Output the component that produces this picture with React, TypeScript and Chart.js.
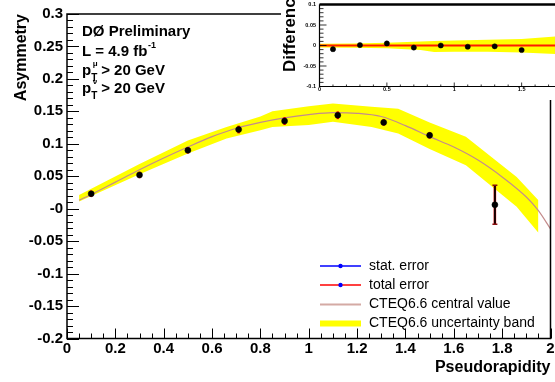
import React, { useEffect, useRef } from 'react';
import { Chart, registerables } from 'chart.js';

Chart.register(...registerables);

const FONT = '"Liberation Sans", Arial, Helvetica, sans-serif';

// ---- main panel data ----
const etaPoints = [0.1, 0.3, 0.5, 0.71, 0.9, 1.12, 1.31, 1.5, 1.77];
const asymmetry = [0.023, 0.052, 0.090, 0.122, 0.135, 0.144, 0.133, 0.113, 0.006];
const totalErr = [0.005, 0.005, 0.005, 0.006, 0.006, 0.006, 0.005, 0.005, 0.030];
const statErr = [0.003, 0.003, 0.003, 0.003, 0.003, 0.003, 0.003, 0.003, 0.029];

const curveEta = [0.05, 0.1, 0.2, 0.3, 0.4, 0.5, 0.6, 0.7, 0.8, 0.9, 1.0, 1.1, 1.2, 1.3, 1.4, 1.5, 1.6, 1.7, 1.8, 1.9, 1.95, 2.0];
const curveVal = [0.013, 0.022, 0.041, 0.060, 0.078, 0.095, 0.111, 0.124, 0.133, 0.140, 0.145, 0.148, 0.147, 0.142, 0.128, 0.111, 0.095, 0.075, 0.049, 0.018, -0.003, -0.031];

const bandEta = [0.05, 0.3, 0.5, 0.66, 0.8, 0.85, 1.0, 1.1, 1.26, 1.37, 1.5, 1.65, 1.86, 1.95];
const bandUpper = [0.021, 0.069, 0.105, 0.126, 0.142, 0.150, 0.158, 0.162, 0.157, 0.154, 0.133, 0.111, 0.049, 0.013];
const bandLower = [0.011, 0.053, 0.085, 0.108, 0.121, 0.126, 0.129, 0.134, 0.126, 0.116, 0.092, 0.067, 0.003, -0.037];

const xTicks = [0, 0.2, 0.4, 0.6, 0.8, 1, 1.2, 1.4, 1.6, 1.8, 2];
const yTicks = [-0.2, -0.15, -0.1, -0.05, 0, 0.05, 0.1, 0.15, 0.2, 0.25, 0.3];

// ---- inset (difference) data ----
const diffEta = [0.1, 0.3, 0.5, 0.7, 0.9, 1.1, 1.3, 1.5];
const diffVal = [-0.009, 0.001, 0.005, -0.005, 0.0, -0.003, -0.002, -0.011];
const insetBandEta = [0, 0.25, 0.5, 0.75, 0.85, 1.0, 1.25, 1.5, 1.75, 2.0];
const insetBandUpper = [0.004, 0.005, 0.007, 0.010, 0.011, 0.0125, 0.014, 0.016, 0.022, 0.026];
const insetBandLower = [-0.005, -0.0055, -0.007, -0.011, -0.016, -0.015, -0.015, -0.017, -0.021, -0.024];
const zeroEta = [0, 2];
const zeroVal = [0, 0];
const insetXTicks = [0, 0.5, 1, 1.5, 2];
const insetYTicks = [-0.1, -0.05, 0, 0.05, 0.1];

const legendLabels = ['stat. error', 'total error', 'CTEQ6.6 central value', 'CTEQ6.6 uncertainty band'];

const pts = (xs: number[], ys: number[]) => xs.map((x, i) => ({ x, y: ys[i] }));
const fmt = (v: number) => String(parseFloat(v.toFixed(3)));

const mainPlugin = {
  id: 'rootMain',
  beforeDatasetDraw(chart: any, args: any) {
    if (args.index !== 3) return;
    const { ctx, scales: { x, y } } = chart;
    ctx.save();
    etaPoints.forEach((e, i) => {
      const px = x.getPixelForValue(e);
      const a = asymmetry[i];
      const t1 = y.getPixelForValue(a + totalErr[i]);
      const t2 = y.getPixelForValue(a - totalErr[i]);
      ctx.strokeStyle = '#ff0000';
      ctx.lineWidth = 2.5;
      ctx.beginPath(); ctx.moveTo(px, t1); ctx.lineTo(px, t2); ctx.stroke();
      if (totalErr[i] > 0.01) {
        ctx.strokeStyle = '#8a1010';
        ctx.lineWidth = 1.5;
        ctx.beginPath();
        ctx.moveTo(px - 2.5, t1); ctx.lineTo(px + 2.5, t1);
        ctx.moveTo(px - 2.5, t2); ctx.lineTo(px + 2.5, t2);
        ctx.stroke();
        const s1 = y.getPixelForValue(a + statErr[i]);
        const s2 = y.getPixelForValue(a - statErr[i]);
        ctx.strokeStyle = '#140000';
        ctx.lineWidth = 2;
        ctx.beginPath(); ctx.moveTo(px, s1); ctx.lineTo(px, s2); ctx.stroke();
      }
    });
    ctx.restore();
  },
  afterDraw(chart: any) {
    const { ctx, chartArea: { left, right, top, bottom }, scales: { x, y } } = chart;
    ctx.save();
    // legend
    const lx1 = 320, lx2 = 361, tx = 369;
    const rows = [266, 285, 304.5, 323.5];
    ctx.font = `14px ${FONT}`;
    ctx.textBaseline = 'middle';
    ctx.textAlign = 'left';
    ctx.fillStyle = '#000';
    const lineCols = ['#0000ff', '#ff0000', '#d4aaa4', '#ffff00'];
    const lineW = [1.3, 1.3, 2, 6];
    rows.forEach((ry, i) => {
      ctx.strokeStyle = lineCols[i];
      ctx.lineWidth = lineW[i];
      ctx.beginPath(); ctx.moveTo(lx1, ry); ctx.lineTo(lx2, ry); ctx.stroke();
      if (i < 2) {
        ctx.fillStyle = '#0000ff';
        ctx.beginPath(); ctx.arc(340.5, ry, 2.2, 0, Math.PI * 2); ctx.fill();
      }
      ctx.fillStyle = '#000';
      ctx.fillText(legendLabels[i], tx, ry);
    });

    // frame
    ctx.strokeStyle = '#000';
    ctx.lineWidth = 1.5;
    ctx.strokeRect(left, top, right - left, bottom - top);
    ctx.lineWidth = 1;
    ctx.beginPath();
    for (let i = 0; i <= 50; i++) {
      const v = -0.2 + i * 0.01;
      const py = Math.round(y.getPixelForValue(v)) + 0.5;
      const len = i % 5 === 0 ? 12 : 6;
      ctx.moveTo(left, py); ctx.lineTo(left + len, py);
    }
    for (let i = 0; i <= 40; i++) {
      const v = i * 0.05;
      const px = Math.round(x.getPixelForValue(v)) + 0.5;
      const len = i % 4 === 0 ? 10 : 5;
      ctx.moveTo(px, bottom); ctx.lineTo(px, bottom - len);
    }
    ctx.stroke();

    // text block
    ctx.fillStyle = '#000';
    ctx.textBaseline = 'alphabetic';
    ctx.textAlign = 'left';
    const bx = 82;
    ctx.font = `bold 15px ${FONT}`;
    ctx.fillText('DØ Preliminary', bx, 36);
    ctx.fillText('L = 4.9 fb', bx, 56);
    const lw = ctx.measureText('L = 4.9 fb').width;
    ctx.font = `bold 9px ${FONT}`;
    ctx.fillText('-1', bx + lw + 0.5, 48);
    const lines: [string, number][] = [['μ', 75], ['ν', 93]];
    lines.forEach(([sup, by]) => {
      ctx.font = `bold 15px ${FONT}`;
      ctx.fillText('p', bx, by);
      const pw = ctx.measureText('p').width;
      ctx.fillText('> 20 GeV', bx + pw + 10, by);
      ctx.font = `bold 10px ${FONT}`;
      ctx.fillText('T', bx + pw, by + 6);
      ctx.font = `bold 8px ${FONT}`;
      ctx.fillText(sup, bx + pw + 1.5, by - 9);
    });
    ctx.restore();
  },
};

const insetPlugin = {
  id: 'rootInset',
  beforeDraw(chart: any) {
    const { ctx, width, height } = chart;
    ctx.save();
    ctx.fillStyle = '#ffffff';
    ctx.fillRect(0, 0, width, height);
    ctx.restore();
  },
  afterDraw(chart: any) {
    const { ctx, chartArea: { left, right, top, bottom }, scales: { x, y } } = chart;
    ctx.save();
    ctx.strokeStyle = '#000';
    ctx.lineWidth = 1.2;
    ctx.beginPath();
    ctx.moveTo(left, top); ctx.lineTo(left, bottom); ctx.lineTo(right, bottom);
    ctx.stroke();
    ctx.lineWidth = 2.5;
    ctx.beginPath(); ctx.moveTo(left, top); ctx.lineTo(right, top); ctx.stroke();
    ctx.lineWidth = 0.8;
    ctx.beginPath();
    for (let i = 0; i <= 20; i++) {
      const py = y.getPixelForValue(-0.1 + i * 0.01);
      const len = i % 5 === 0 ? 7 : 4;
      ctx.moveTo(left, py); ctx.lineTo(left + len, py);
    }
    for (let i = 0; i <= 20; i++) {
      const px = x.getPixelForValue(i * 0.1);
      const len = i % 5 === 0 ? 4 : 2;
      ctx.moveTo(px, bottom); ctx.lineTo(px, bottom - len);
    }
    ctx.stroke();
    ctx.translate(9, 72);
    ctx.rotate(-Math.PI / 2);
    ctx.font = `bold 17px ${FONT}`;
    ctx.textBaseline = 'middle';
    ctx.textAlign = 'left';
    ctx.fillStyle = '#000';
    ctx.fillText('Difference', 0, 0);
    ctx.restore();
  },
};

export default function App() {
  const mainRef = useRef<HTMLCanvasElement>(null);
  const insetRef = useRef<HTMLCanvasElement>(null);

  useEffect(() => {
    const tickFont = { family: FONT, size: 15, weight: 'bold' as const };
    const main = new Chart(mainRef.current!, {
      type: 'scatter',
      data: {
        datasets: [
          {
            type: 'line', label: 'bandUpper', data: pts(bandEta, bandUpper), order: 10,
            borderWidth: 0, borderColor: 'rgba(0,0,0,0)', pointRadius: 0, fill: '+1',
            backgroundColor: '#ffff00', tension: 0,
          } as any,
          {
            type: 'line', label: 'bandLower', data: pts(bandEta, bandLower), order: 9,
            borderWidth: 0, borderColor: 'rgba(0,0,0,0)', pointRadius: 0, fill: false, tension: 0,
          },
          {
            type: 'line', label: 'central', data: pts(curveEta, curveVal), order: 5,
            borderColor: '#c48c8c', borderWidth: 1.2, pointRadius: 0, fill: false,
            cubicInterpolationMode: 'monotone',
          },
          {
            type: 'scatter', label: 'data', data: pts(etaPoints, asymmetry), order: 1,
            pointRadius: 3, backgroundColor: '#000', borderColor: '#000', borderWidth: 0.5,
          },
        ],
      },
      options: {
        responsive: false,
        animation: false,
        devicePixelRatio: 1,
        layout: { padding: { left: 0, right: 2, top: 14, bottom: 0 } },
        plugins: { legend: { display: false }, tooltip: { enabled: false } },
        scales: {
          x: {
            type: 'linear', min: 0, max: 2,
            afterBuildTicks: (s: any) => { s.ticks = xTicks.map((v) => ({ value: v })); },
            ticks: {
              autoSkip: false, maxRotation: 0, padding: 1, color: '#000', font: tickFont,
              callback: (v: any) => fmt(Number(v)),
            },
            grid: { display: false, drawTicks: false },
            border: { display: false },
            title: {
              display: true, text: 'Pseudorapidity', align: 'end', color: '#000',
              font: { family: FONT, size: 16, weight: 'bold' }, padding: { top: 0, bottom: 4.4 },
            },
            afterFit: (s: any) => { s.height = 43.5; s.paddingLeft = 0; s.paddingRight = 0; },
          },
          y: {
            type: 'linear', min: -0.2, max: 0.3,
            afterBuildTicks: (s: any) => { s.ticks = yTicks.map((v) => ({ value: v })); },
            ticks: {
              autoSkip: false, padding: 4, color: '#000', font: tickFont,
              callback: (v: any) => (Math.abs(Number(v)) < 1e-9 ? '-0' : fmt(Number(v))),
            },
            grid: { display: false, drawTicks: false },
            border: { display: false },
            title: {
              display: true, text: 'Asymmetry', align: 'end', color: '#000',
              font: { family: FONT, size: 16, weight: 'bold' }, padding: { top: 12.4, bottom: 0 },
            },
            afterFit: (s: any) => { s.width = 67; s.paddingTop = 0; s.paddingBottom = 0; },
          },
        },
      },
      plugins: [mainPlugin],
    });

    const smallFont = { family: FONT, size: 5.5, weight: 'bold' as const };
    const inset = new Chart(insetRef.current!, {
      type: 'scatter',
      data: {
        datasets: [
          {
            type: 'line', label: 'iu', data: pts(insetBandEta, insetBandUpper), order: 10,
            borderWidth: 0, borderColor: 'rgba(0,0,0,0)', pointRadius: 0, fill: '+1',
            backgroundColor: '#ffff00', tension: 0,
          } as any,
          {
            type: 'line', label: 'il', data: pts(insetBandEta, insetBandLower), order: 9,
            borderWidth: 0, borderColor: 'rgba(0,0,0,0)', pointRadius: 0, fill: false, tension: 0,
          },
          {
            type: 'line', label: 'zero', data: pts(zeroEta, zeroVal), order: 5,
            borderColor: '#ff1a00', borderWidth: 2, pointRadius: 0, fill: false,
          },
          {
            type: 'scatter', label: 'diff', data: pts(diffEta, diffVal), order: 1,
            pointRadius: 2.6, backgroundColor: '#000', borderColor: '#000', borderWidth: 0.5,
          },
        ],
      },
      options: {
        responsive: false,
        animation: false,
        devicePixelRatio: 1,
        layout: { padding: { left: 0, right: 22, top: 1, bottom: 0 } },
        plugins: { legend: { display: false }, tooltip: { enabled: false } },
        scales: {
          x: {
            type: 'linear', min: 0, max: 2,
            afterBuildTicks: (s: any) => { s.ticks = insetXTicks.map((v) => ({ value: v })); },
            ticks: { autoSkip: false, maxRotation: 0, padding: 0, color: '#000', font: smallFont, callback: (v: any) => fmt(Number(v)) },
            grid: { display: false, drawTicks: false },
            border: { display: false },
            afterFit: (s: any) => { s.height = 13.5; s.paddingLeft = 0; s.paddingRight = 0; },
          },
          y: {
            type: 'linear', min: -0.1, max: 0.1,
            afterBuildTicks: (s: any) => { s.ticks = insetYTicks.map((v) => ({ value: v })); },
            ticks: { autoSkip: false, padding: 3.5, color: '#000', font: smallFont, callback: (v: any) => fmt(Number(v)) },
            grid: { display: false, drawTicks: false },
            border: { display: false },
            afterFit: (s: any) => { s.width = 38.5; s.paddingTop = 0; s.paddingBottom = 0; },
          },
        },
      },
      plugins: [insetPlugin],
    });

    return () => { main.destroy(); inset.destroy(); };
  }, []);

  return (
    <div style={{ position: 'fixed', left: 0, top: 0, width: 555, height: 382, overflow: 'hidden', background: '#fff' }}>
      <canvas ref={mainRef} width={555} height={382} style={{ position: 'absolute', left: 0, top: 0, width: 555, height: 382 }} />
      <canvas ref={insetRef} width={330} height={100} style={{ position: 'absolute', left: 281, top: 0, width: 330, height: 100 }} />
    </div>
  );
}
